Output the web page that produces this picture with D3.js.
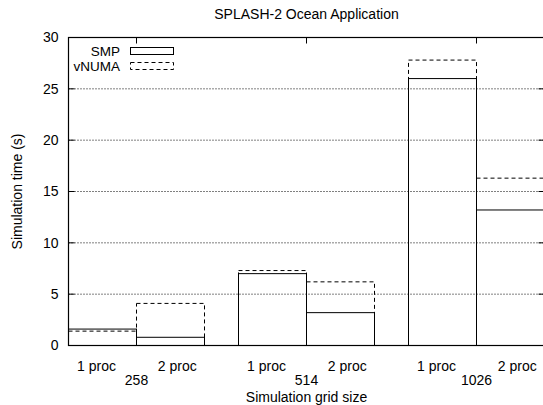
<!DOCTYPE html>
<html>
<head>
<meta charset="utf-8">
<script src="https://cdn.jsdelivr.net/npm/d3@7"></script>
<style>
  body { margin: 0; background: #fff; }
  svg text { font-family: "Liberation Sans", Arial, sans-serif; font-size: 14px; fill: #000; }
</style>
</head>
<body>
<div id="chart"></div>
<script>
// data
const gridSizes = ["258", "514", "1026"];
const procLabels = ["1 proc", "2 proc"];
const smpTimes = [[1.6, 0.8], [7.0, 3.2], [26.0, 13.2]];
const vnumaTimes = [[1.4, 4.1], [7.3, 6.2], [27.8, 16.3]];
const yTicks = [0, 5, 10, 15, 20, 25, 30];
const seriesNames = ["SMP", "vNUMA"];

const width = 543, height = 405;
const svg = d3.select("#chart").append("svg")
  .attr("width", width)
  .attr("height", height);

// x: group index, bars are 0.4 wide each side of the group centre
const x = d3.scaleLinear().domain([-0.4, 2.4]).range([68.5, 544.5]);
const y = d3.scaleLinear().domain([0, 30]).range([345.5, 37.5]);
const barW = 0.4;

// grid
svg.append("g")
  .selectAll("line")
  .data(yTicks.filter(d => d > 0 && d < 30))
  .enter().append("line")
  .attr("x1", x(-0.4)).attr("x2", x(2.4))
  .attr("y1", d => y(d)).attr("y2", d => y(d))
  .attr("stroke", "#000")
  .attr("stroke-width", 1)
  .attr("stroke-dasharray", "1,2");

// bars (empty boxes, gnuplot style)
function bars(data, dash) {
  const flat = [];
  data.forEach((g, gi) => g.forEach((v, pi) => flat.push({gi: gi, pi: pi, v: v})));
  svg.append("g")
    .selectAll("rect")
    .data(flat)
    .enter().append("rect")
    .attr("x", d => x(d.gi - barW + d.pi * barW))
    .attr("width", d => x(barW) - x(0))
    .attr("y", d => y(d.v))
    .attr("height", d => y(0) - y(d.v))
    .attr("fill", "none")
    .attr("stroke", "#000")
    .attr("stroke-width", 1)
    .attr("stroke-dasharray", dash);
}
bars(smpTimes, null);
bars(vnumaTimes, "4,3");

// border
svg.append("rect")
  .attr("x", x(-0.4)).attr("y", y(30))
  .attr("width", x(2.4) - x(-0.4))
  .attr("height", y(0) - y(30))
  .attr("fill", "none")
  .attr("stroke", "#000")
  .attr("stroke-width", 1.2);

// y axis: labels + inward ticks, mirrored on the right
const yAxis = d3.axisLeft(y).tickValues(yTicks).tickSize(0).tickPadding(10);
const yg = svg.append("g")
  .attr("transform", "translate(" + x(-0.4) + ",0)")
  .call(yAxis);
yg.select(".domain").remove();
yg.selectAll("text").style("font-size", "14px").style("font-family", null);

svg.append("g").selectAll("line")
  .data(yTicks)
  .enter().append("line")
  .attr("x1", x(-0.4)).attr("x2", x(-0.4) + 6)
  .attr("y1", d => y(d)).attr("y2", d => y(d))
  .attr("stroke", "#000");
svg.append("g").selectAll("line")
  .data(yTicks)
  .enter().append("line")
  .attr("x1", x(2.4)).attr("x2", x(2.4) - 6)
  .attr("y1", d => y(d)).attr("y2", d => y(d))
  .attr("stroke", "#000");

// x ticks at group centres (top, inward)
svg.append("g").selectAll("line")
  .data(gridSizes)
  .enter().append("line")
  .attr("x1", (d, i) => x(i)).attr("x2", (d, i) => x(i))
  .attr("y1", y(30)).attr("y2", y(30) + 6)
  .attr("stroke", "#000");

// x labels: proc labels on first line, grid size below
const xl = svg.append("g");
gridSizes.forEach((g, gi) => {
  procLabels.forEach((p, pi) => {
    xl.append("text")
      .attr("x", x(gi + (pi === 0 ? -0.235 : 0.24)))
      .attr("y", 366)
      .attr("dy", "0.35em")
      .attr("text-anchor", "middle")
      .text(p);
  });
  xl.append("text")
    .attr("x", x(gi))
    .attr("y", 380.5)
    .attr("dy", "0.35em")
    .attr("text-anchor", "middle")
    .text(g);
});

// titles
svg.append("text")
  .attr("x", (x(-0.4) + x(2.4)) / 2)
  .attr("y", 14)
  .attr("dy", "0.35em")
  .attr("text-anchor", "middle")
  .text("SPLASH-2 Ocean Application");

svg.append("text")
  .attr("x", (x(-0.4) + x(2.4)) / 2)
  .attr("y", 397)
  .attr("dy", "0.35em")
  .attr("text-anchor", "middle")
  .text("Simulation grid size");

svg.append("text")
  .attr("transform", "translate(17," + ((y(0) + y(30)) / 2) + ") rotate(-90)")
  .attr("dy", "0.35em")
  .attr("text-anchor", "middle")
  .text("Simulation time (s)");

// legend
const legend = svg.append("g");
seriesNames.forEach((s, i) => {
  const ly = 51 + i * 15;
  legend.append("text")
    .attr("x", 120)
    .attr("y", ly)
    .attr("dy", "0.35em")
    .attr("text-anchor", "end")
    .style("font-size", "13.5px")
    .text(s);
  legend.append("rect")
    .attr("x", 130.5).attr("y", ly - 3.5)
    .attr("width", 43).attr("height", 7)
    .attr("fill", "none")
    .attr("stroke", "#000")
    .attr("stroke-dasharray", i === 0 ? null : "4,3");
});
</script>
</body>
</html>
